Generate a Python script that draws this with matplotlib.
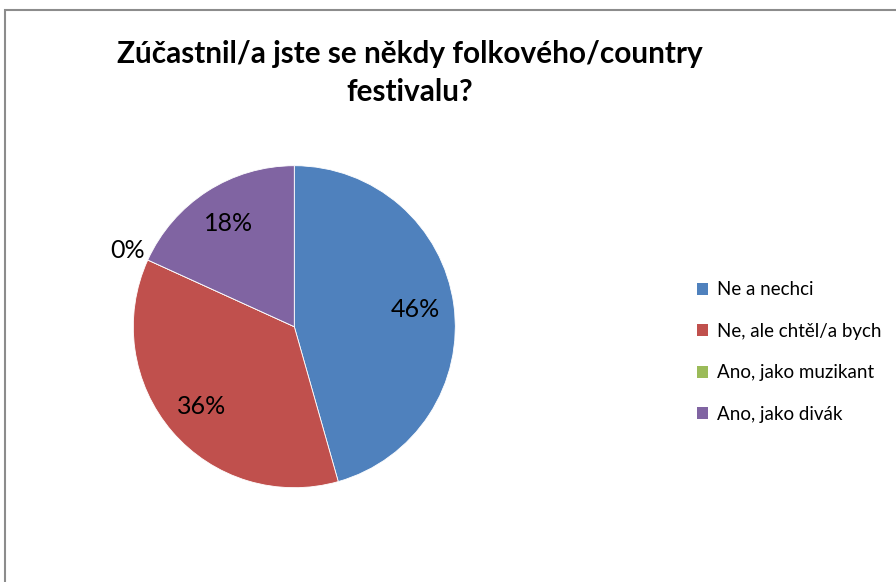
import numpy as np
import matplotlib
matplotlib.use("Agg")
import matplotlib.pyplot as plt
from matplotlib.patches import Patch, Rectangle

categories = ["Ne a nechci", "Ne, ale chtěl/a bych", "Ano, jako muzikant", "Ano, jako divák"]
values = [45.6, 36.2, 0.0, 18.2]
colors = ["#4F81BD", "#C0504D", "#9BBB59", "#8064A2"]
title = "Zúčastnil/a jste se někdy folkového/country\nfestivalu?"

plt.rcParams['font.family'] = ['Lato', 'DejaVu Sans']

W, H = 896, 582
fig = plt.figure(figsize=(W / 100, H / 100), dpi=100)

# outer frame
fig.add_artist(Rectangle((5 / W, -0.05), 1.0, 1 - 10 / H + 0.05, transform=fig.transFigure,
                         fill=False, edgecolor="#8c8c8c", lw=1.5))

cx, cy, r = 294.3, 326.7, 161
ax = fig.add_axes([(cx - r) / W, 1 - (cy + r) / H, 2 * r / W, 2 * r / H])

wedges, _ = ax.pie(values, colors=colors, startangle=90, counterclock=False, radius=1,
                   wedgeprops=dict(edgecolor="white", linewidth=0.6))
ax.set_xlim(-1, 1)
ax.set_ylim(-1, 1)
ax.set_aspect('equal')
ax.axis('off')

total = sum(values)
cum = 0.0
for v in values:
    frac_mid = (cum + v / 2) / total
    cum += v
    ang = np.deg2rad(90 - 360 * frac_mid)
    dist = 0.76 if v > 0 else 1.14
    ax.text(dist * np.cos(ang), dist * np.sin(ang), f"{v / total * 100:.0f}%",
            ha='center', va='center', fontsize=18, color='black')

fig.text(410 / W, 1 - 73 / H, title, ha='center', va='center', fontsize=21.4,
         fontweight='bold', linespacing=1.42)

handles = [Patch(facecolor=c, edgecolor='none') for c in colors]
fig.legend(handles, categories, loc='center left', bbox_to_anchor=(680 / W, 1 - 352 / H),
           frameon=False, fontsize=13.5, handlelength=0.6, handleheight=0.6,
           handletextpad=0.45, labelspacing=1.3)

fig.savefig("out.png", dpi=100, facecolor='white')
